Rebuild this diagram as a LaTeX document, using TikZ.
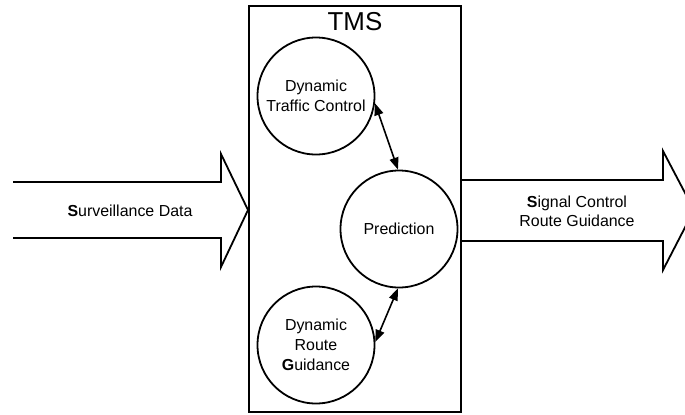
\documentclass[tikz,border=0pt]{standalone}
\usepackage{fontspec}
\setmainfont{Liberation Sans}
\usetikzlibrary{arrows.meta}
\begin{document}
\begin{tikzpicture}[x=1bp,y=-1bp,
  thick line/.style={line width=1.8bp, line join=miter},
  proc/.style={circle, draw, line width=1.8bp, minimum size=117bp, inner sep=0pt, align=center, font=\fontsize{16}{20}\selectfont},
  label text/.style={align=center, font=\fontsize{16}{19}\selectfont},
  dbl/.style={line width=1.6bp, {Triangle[length=12bp,width=9bp]}-{Triangle[length=12bp,width=9bp]}}]
\useasboundingbox (0,0) rectangle (685,414);
\clip (0,0) rectangle (685,414);
% TMS box
\node[draw, line width=1.8bp, minimum width=212bp, minimum height=406bp, inner sep=0pt] (tms) at (355,209) {};
\node[font=\fontsize{26}{30}\selectfont] (tmslabel) at (355,22) {TMS};
% processes
\node[proc] (dtc) at (316,96) {Dynamic\\Traffic Control};
\node[proc] (pred) at (399,229) {Prediction};
\node[proc] (drg) at (316,345) {Dynamic\\Route\\\textbf{G}uidance};
\draw[dbl] (dtc.-7) -- (pred.91);
\draw[dbl] (pred.269) -- (drg.3);
% input arrow
\draw[thick line] (13,182) -- (221,182) -- (221,154) -- (248,210) -- (221,267) -- (221,238) -- (13,238);
\node[label text] (input) at (130,211) {\textbf{S}urveillance Data};
% output arrow
\draw[thick line] (461,180) -- (663,180) -- (663,151) -- (694,210) -- (663,270) -- (663,241) -- (461,241);
\node[label text] (output) at (577,211) {\textbf{S}ignal Control\\Route Guidance};
\end{tikzpicture}
\end{document}
